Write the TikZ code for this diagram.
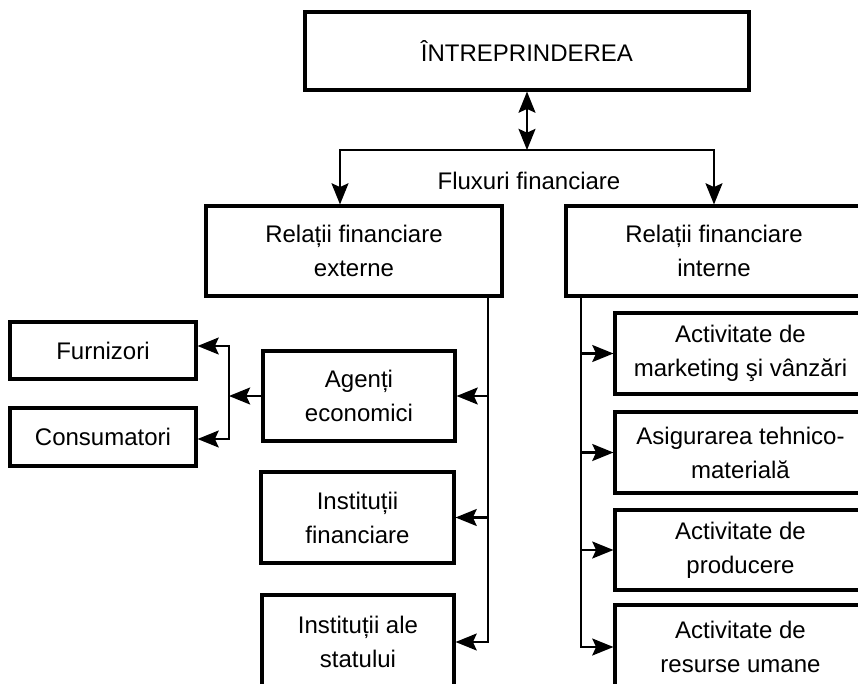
\documentclass[tikz,border=0pt]{standalone}
\usepackage{fontspec}
\setmainfont{Liberation Sans}
\usetikzlibrary{arrows.meta}

\tikzset{
  box/.style={draw=black, fill=white, line width=2.4pt, inner sep=2pt,
    align=center, font=\fontsize{18}{25.5}\selectfont},
  conn/.style={draw=black, line width=1.6pt},
  >={Stealth[length=16pt, width=13pt, inset=3pt, line width=0pt]},
  arr/.style={conn, ->},
  dblarr/.style={conn, <->},
  lbl/.style={font=\fontsize{18}{25.5}\selectfont, inner sep=0pt}
}

\begin{document}
\begin{tikzpicture}[x=0.75pt, y=-0.75pt]
  % page frame: boxes at the right and bottom run off the page
  \useasboundingbox (0,0) rectangle (858,683);
  \clip (0,0) rectangle (858,683);

  % main blocks
  \node[box, minimum width=333pt, minimum height=58.5pt] (firm) at (527,51) {ÎNTREPRINDEREA};
  \node[box, minimum width=222pt, minimum height=67.5pt] (ext) at (354,251) {Relații financiare\\externe};
  \node[box, minimum width=222pt, minimum height=67.5pt] (int) at (714,251) {Relații financiare\\interne};
  \node[lbl] (flux) at (529,181) {Fluxuri financiare};

  % external partners
  \node[box, minimum width=144pt, minimum height=67.5pt] (agenti) at (359,396) {Agenți\\economici};
  \node[box, minimum width=144.75pt, minimum height=68.25pt] (instfin) at (357.5,517.5) {Instituții\\financiare};
  \node[box, minimum width=144pt, minimum height=70.5pt] (inststat) at (358,642) {Instituții ale\\statului};
  \node[box, minimum width=139.5pt, minimum height=42.75pt] (furn) at (103,350.5) {Furnizori};
  \node[box, minimum width=139.5pt, minimum height=43.5pt] (cons) at (103,437) {Consumatori};

  % internal activities
  \node[box, minimum width=188.25pt, minimum height=60.75pt] (mkt) at (740.5,353.5) {Activitate de\\marketing şi vânzări};
  \node[box, minimum width=188.25pt, minimum height=60.75pt] (asig) at (740.5,452.5) {Asigurarea tehnico-\\materială};
  \node[box, minimum width=188.25pt, minimum height=60pt] (prod) at (740.5,550) {Activitate de\\producere};
  \node[box, minimum width=188.25pt, minimum height=63pt] (res) at (740.5,647) {Activitate de\\resurse umane};

  % branching points
  \coordinate (split) at (527,150);
  \coordinate (hl) at (340,150);
  \coordinate (hr) at (714,150);
  \coordinate (lbus) at (488,296);
  \coordinate (rbus) at (581,296);
  \coordinate (jn) at (229,396);
  \coordinate (jf) at (229,346);
  \coordinate (jc) at (229,439);

  % top flows
  \draw[dblarr] (firm.south) -- (split);
  \draw[arr] (split) -- (hl) -- (hl |- ext.north);
  \draw[arr] (split) -- (hr) -- (hr |- int.north);

  % external relations bus
  \draw[arr] (lbus) |- (inststat.east);
  \draw[arr] (lbus |- agenti.east) -- (agenti.east);
  \draw[arr] (lbus |- instfin.east) -- (instfin.east);

  % economic agents split
  \draw[arr] (agenti.west) -- (jn);
  \draw[arr] (jn) |- (jf -| furn.east);
  \draw[arr] (jn) |- (jc -| cons.east);

  % internal relations bus
  \draw[arr] (rbus) |- (res.west);
  \draw[arr] (rbus |- mkt.west) -- (mkt.west);
  \draw[arr] (rbus |- asig.west) -- (asig.west);
  \draw[arr] (rbus |- prod.west) -- (prod.west);
\end{tikzpicture}
\end{document}
